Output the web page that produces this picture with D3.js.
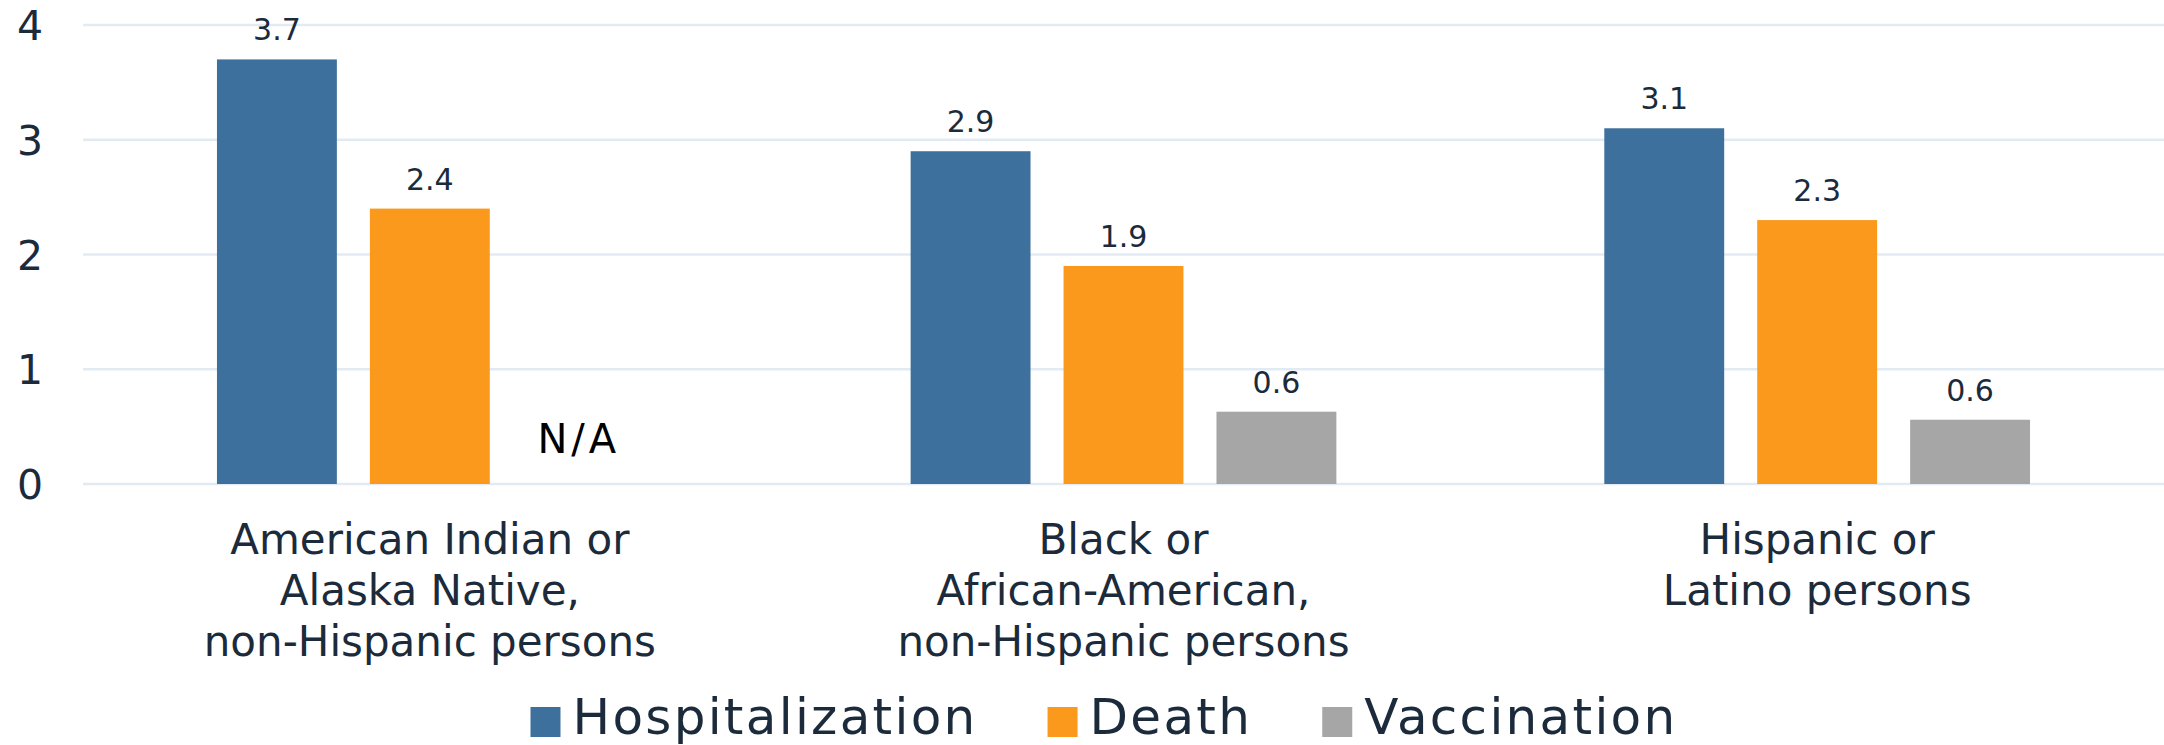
<!DOCTYPE html>
<html>
<head>
<meta charset="utf-8">
<script src="https://cdn.jsdelivr.net/npm/d3@7"></script>
<style>
  body { margin: 0; background: #fff; }
  text { font-family: "DejaVu Sans", sans-serif; fill: #1b2b3b; }
</style>
</head>
<body>
<div id="chart"></div>
<script>
const categories = [
    ["American Indian or", "Alaska Native,", "non-Hispanic persons"],
    ["Black or", "African-American,", "non-Hispanic persons"],
    ["Hispanic or", "Latino persons"]
];
const seriesNames = ["Hospitalization", "Death", "Vaccination"];
const hospitalization = [3.7, 2.9, 3.1];
const death = [2.4, 1.9, 2.3];
const vaccination = [null, 0.63, 0.56];
const yTicks = [0, 1, 2, 3, 4];
const colors = ["#3d709c", "#fa991c", "#a6a6a6"];

const width = 2164, height = 745;
const seriesValues = [hospitalization, death, vaccination];

const svg = d3.select("#chart")
    .append("svg")
    .attr("width", width)
    .attr("height", height);

const x = d3.scaleBand()
    .domain(d3.range(categories.length))
    .range([83, width])
    .padding(0);

const xInner = d3.scaleBand()
    .domain(seriesNames)
    .range([0, x.bandwidth()])
    .paddingInner(0.216)
    .paddingOuter(0.876);

const y = d3.scaleLinear()
    .domain([0, 4])
    .range([484, 25]);

// gridlines
svg.append("g")
    .selectAll("line")
    .data(yTicks)
    .enter()
    .append("line")
    .attr("x1", 83)
    .attr("x2", width)
    .attr("y1", d => y(d))
    .attr("y2", d => y(d))
    .attr("stroke", "#e2ebf4")
    .attr("stroke-width", 2.5);

// y labels
svg.append("g")
    .selectAll("text")
    .data(yTicks)
    .enter()
    .append("text")
    .attr("x", 30)
    .attr("y", d => y(d) + 15)
    .attr("text-anchor", "middle")
    .style("font-size", "41px")
    .style("font-weight", 500)
    .text(d => d);

const rows = [];
categories.forEach((c, i) => {
    seriesNames.forEach((s, j) => {
        rows.push({cat: i, series: s, idx: j, value: seriesValues[j][i]});
    });
});

const groups = svg.append("g");

groups.selectAll("rect")
    .data(rows.filter(d => d.value != null))
    .enter()
    .append("rect")
    .attr("x", d => x(d.cat) + xInner(d.series))
    .attr("width", xInner.bandwidth())
    .attr("y", d => y(d.value))
    .attr("height", d => y(0) - y(d.value))
    .attr("fill", d => colors[d.idx]);

groups.selectAll("text.val")
    .data(rows)
    .enter()
    .append("text")
    .attr("class", "val")
    .attr("x", d => x(d.cat) + xInner(d.series) + xInner.bandwidth() / 2 + (d.value == null ? -4 : 0))
    .attr("y", d => d.value == null ? 453 : y(d.value) - 19)
    .attr("text-anchor", "middle")
    .style("font-size", d => d.value == null ? "40px" : "30px")
    .style("letter-spacing", d => d.value == null ? "4px" : null)
    .style("fill", d => d.value == null ? "#000" : null)
    .text(d => d.value == null ? "N/A" : d3.format(".1f")(d.value));

// category labels
const catLabels = svg.append("g")
    .selectAll("text")
    .data(categories)
    .enter()
    .append("text")
    .attr("text-anchor", "middle")
    .style("font-size", "42px");

catLabels.selectAll("tspan")
    .data((d, i) => d.map(line => ({line: line, cat: i})))
    .enter()
    .append("tspan")
    .attr("x", d => x(d.cat) + x.bandwidth() / 2)
    .attr("y", (d, i) => 554 + i * 51)
    .text(d => d.line);

// legend
const legend = svg.append("g");
let lx = 0;
seriesNames.forEach((s, i) => {
    const item = legend.append("g").attr("transform", "translate(" + lx + ",0)");
    item.append("rect")
        .attr("x", 0)
        .attr("y", 707)
        .attr("width", 30)
        .attr("height", 30)
        .attr("fill", colors[i]);
    const t = item.append("text")
        .attr("x", 42)
        .attr("y", 734)
        .style("font-size", "50px")
        .style("letter-spacing", "2.3px")
        .text(s);
    lx += 42 + t.node().getComputedTextLength() + 70;
});
const legendWidth = lx - 70;
legend.attr("transform", "translate(" + (1104 - legendWidth / 2) + ",0)");
</script>
</body>
</html>
